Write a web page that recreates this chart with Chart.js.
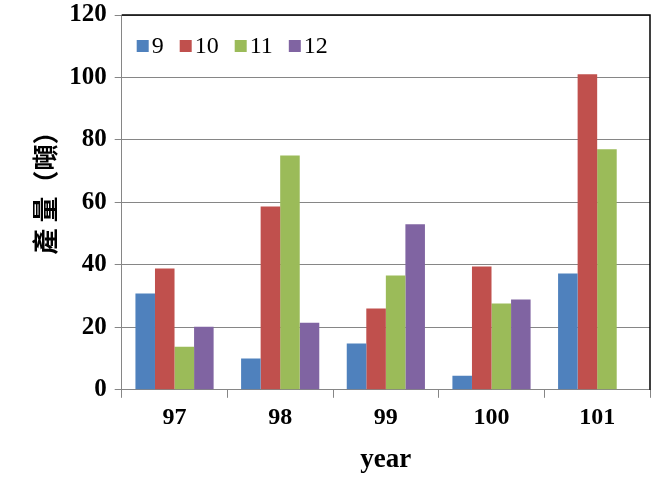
<!DOCTYPE html>
<html>
<head>
<meta charset="utf-8">
<script src="https://cdn.jsdelivr.net/npm/chart.js@4"></script>
<style>
  html, body { margin: 0; padding: 0; background: #fff; }
</style>
</head>
<body>
<canvas id="chart" width="660" height="480"></canvas>
<script>
// data
const years = ['97', '98', '99', '100', '101'];
const month9 = [30.8, 10, 14.8, 4.5, 37.2];
const month10 = [38.8, 58.7, 26, 39.5, 101];
const month11 = [13.8, 75, 36.6, 27.6, 77];
const month12 = [20.2, 21.5, 53, 28.9, null];
const seriesNames = ['9', '10', '11', '12'];
const colors = ['#4F81BD', '#C0504D', '#9BBB59', '#8064A2'];

const serif = "'Liberation Serif', 'Times New Roman', serif";

// black line along the top and right of the plot area
const frame = {
  id: 'frame',
  afterDraw(chart) {
    const { ctx, chartArea: a } = chart;
    ctx.save();
    ctx.strokeStyle = '#000';
    ctx.lineWidth = 1.5;
    ctx.beginPath();
    ctx.moveTo(a.left, a.top);
    ctx.lineTo(a.right, a.top);
    ctx.lineTo(a.right, a.bottom);
    ctx.stroke();
    ctx.restore();
  }
};

// one-row legend inside the top left of the plot area
const insideLegend = {
  id: 'insideLegend',
  afterDraw(chart) {
    const { ctx, chartArea: a } = chart;
    let x = a.left + 15;
    const y = a.top + 31;
    ctx.save();
    ctx.font = '24px ' + serif;
    ctx.textBaseline = 'middle';
    chart.data.datasets.forEach(ds => {
      ctx.fillStyle = ds.backgroundColor;
      ctx.fillRect(x, y - 6, 12, 12);
      ctx.fillStyle = '#000';
      ctx.fillText(ds.label, x + 15, y + 1);
      x += 15 + ctx.measureText(ds.label).width + 16;
    });
    ctx.restore();
  }
};

const ctx = document.getElementById('chart').getContext('2d');
new Chart(ctx, {
  type: 'bar',
  data: {
    labels: years,
    datasets: [month9, month10, month11, month12].map((d, i) => ({
      label: seriesNames[i],
      data: d,
      backgroundColor: colors[i],
      borderWidth: 0,
      barPercentage: 1,
      categoryPercentage: 0.74
    }))
  },
  options: {
    responsive: false,
    animation: false,
    layout: { padding: { top: 0, right: 10, left: 26, bottom: 0 } },
    plugins: {
      legend: { display: false },
      tooltip: { enabled: false }
    },
    scales: {
      x: {
        grid: { drawOnChartArea: false, color: '#868686', tickLength: 8 },
        border: { color: '#868686' },
        ticks: { color: '#000', font: { family: serif, size: 24, weight: 'bold' }, padding: 6 },
        title: {
          display: true,
          text: 'year',
          color: '#000',
          font: { family: serif, size: 27, weight: 'bold' },
          padding: { top: 5 }
        }
      },
      y: {
        min: 0,
        max: 120,
        grid: { color: '#868686', tickLength: 7 },
        border: { color: '#868686' },
        ticks: { stepSize: 20, color: '#000', font: { family: serif, size: 25, weight: 'bold', lineHeight: 0.56 }, padding: 8 },
        title: {
          display: true,
          // leading blanks push the rotated title up a little, as in the original
          text: '\u3000 產 量（噸）',
          color: '#000',
          font: { family: "'Noto Sans CJK TC', serif", size: 26, weight: 'bold' },
          padding: { bottom: 0 }
        }
      }
    }
  },
  plugins: [frame, insideLegend]
});
</script>
</body>
</html>
